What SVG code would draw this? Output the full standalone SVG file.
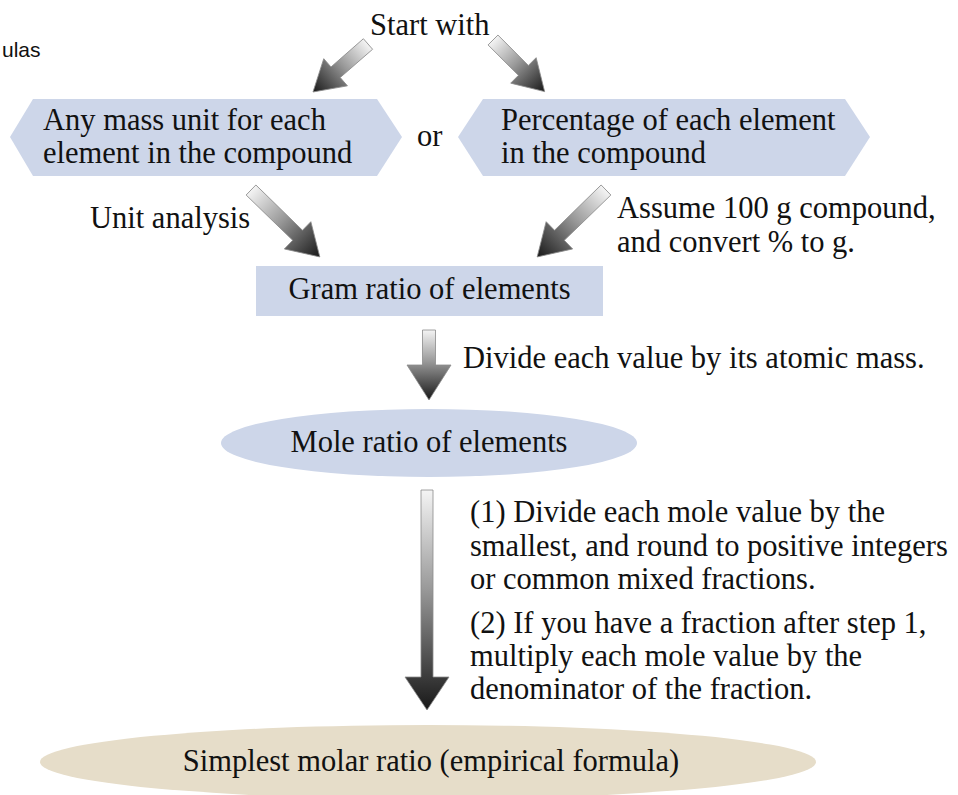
<svg xmlns="http://www.w3.org/2000/svg" width="958" height="795" viewBox="0 0 958 795">
<defs>
<linearGradient id="g" x1="0" y1="0" x2="0" y2="1">
<stop offset="0" stop-color="#f4f4f4"/>
<stop offset="0.45" stop-color="#999"/>
<stop offset="1" stop-color="#181818"/>
</linearGradient>
<style>
text{font-family:"Liberation Serif","Times New Roman",serif;font-size:30.5px;fill:#111}
.blue{fill:#cdd6e9}
.tan{fill:#e6ddc9}
.arr{fill:url(#g);stroke:#8a8a8a;stroke-width:0.8}
</style>
</defs>
<rect width="958" height="795" fill="#fff"/>
<text x="2" y="57" style="font-family:'Liberation Sans',Arial,sans-serif;font-size:21px">ulas</text>
<g id="start"><text x="370" y="35">Start with</text></g>
<g id="mass">
<polygon class="blue" points="10,137 33,99 377,99 402,137 377,176 33,176"/>
<text x="43" y="130">Any mass unit for each</text>
<text x="43" y="163">element in the compound</text>
</g>
<g id="or"><text x="417" y="146">or</text></g>
<g id="percent">
<polygon class="blue" points="458,137 483,99 845,99 870,137 845,176 483,176"/>
<text x="501" y="130">Percentage of each element</text>
<text x="501" y="163">in the compound</text>
</g>
<g id="gram">
<rect class="blue" x="256" y="266" width="347" height="50"/>
<text x="429.5" y="299" text-anchor="middle">Gram ratio of elements</text>
</g>
<g id="mole">
<ellipse class="blue" cx="429" cy="443" rx="208" ry="34"/>
<text x="429" y="452" text-anchor="middle">Mole ratio of elements</text>
</g>
<g id="simplest">
<ellipse class="tan" cx="428" cy="762" rx="388" ry="37"/>
<text x="431" y="771" text-anchor="middle">Simplest molar ratio (empirical formula)</text>
</g>
<g id="connectors">
<polygon class="arr" transform="translate(368,44) rotate(48.9)" points="-7,0 7,0 7,43 18,43 0,73 -18,43 -7,43"/>
<polygon class="arr" transform="translate(493,40) rotate(-45)" points="-7,0 7,0 7,43 18,43 0,73 -18,43 -7,43"/>
<polygon class="arr" transform="translate(251,190) rotate(-45.8)" points="-7,0 7,0 7,65 19,65 0,96 -19,65 -7,65"/>
<polygon class="arr" transform="translate(606,190) rotate(45.8)" points="-7,0 7,0 7,65 19,65 0,96 -19,65 -7,65"/>
<polygon class="arr" transform="translate(429,330)" points="-6.5,0 6.5,0 6.5,35 22,35 0,70 -22,35 -6.5,35"/>
<polygon class="arr" transform="translate(427,490)" points="-6,0 6,0 6,187 22,187 0,220 -22,187 -6,187"/>
</g>
<g id="labels">
<text x="90" y="228">Unit analysis</text>
<text x="617" y="218">Assume 100 g compound,</text>
<text x="617" y="252">and convert % to g.</text>
<text x="463" y="368">Divide each value by its atomic mass.</text>
<text x="470" y="522">(1) Divide each mole value by the</text>
<text x="470" y="556">smallest, and round to positive integers</text>
<text x="470" y="589">or common mixed fractions.</text>
<text x="470" y="633">(2) If you have a fraction after step 1,</text>
<text x="470" y="666">multiply each mole value by the</text>
<text x="470" y="699">denominator of the fraction.</text>
</g>
</svg>
